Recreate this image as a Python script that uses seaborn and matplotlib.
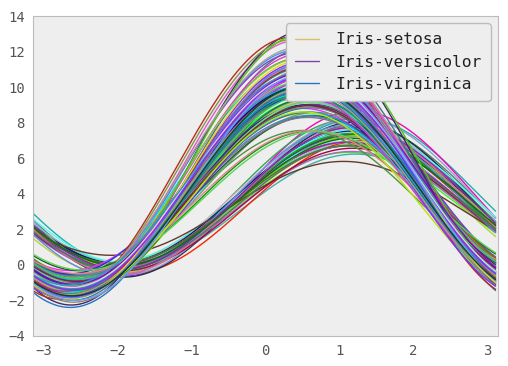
import random
import numpy as np
import pandas as pd
import matplotlib.pyplot as plt
from matplotlib.lines import Line2D
import seaborn as sns

# iris measurements, rows in file order (setosa, versicolor, virginica)
sepal_length = [
    5.1, 4.9, 4.7, 4.6, 5.0, 5.4, 4.6, 5.0, 4.4, 4.9, 5.4, 4.8, 4.8, 4.3, 5.8, 5.7, 5.4, 5.1, 5.7, 5.1,
    5.4, 5.1, 4.6, 5.1, 4.8, 5.0, 5.0, 5.2, 5.2, 4.7, 4.8, 5.4, 5.2, 5.5, 4.9, 5.0, 5.5, 4.9, 4.4, 5.1,
    5.0, 4.5, 4.4, 5.0, 5.1, 4.8, 5.1, 4.6, 5.3, 5.0,
    7.0, 6.4, 6.9, 5.5, 6.5, 5.7, 6.3, 4.9, 6.6, 5.2, 5.0, 5.9, 6.0, 6.1, 5.6, 6.7, 5.6, 5.8, 6.2, 5.6,
    5.9, 6.1, 6.3, 6.1, 6.4, 6.6, 6.8, 6.7, 6.0, 5.7, 5.5, 5.5, 5.8, 6.0, 5.4, 6.0, 6.7, 6.3, 5.6, 5.5,
    5.5, 6.1, 5.8, 5.0, 5.6, 5.7, 5.7, 6.2, 5.1, 5.7,
    6.3, 5.8, 7.1, 6.3, 6.5, 7.6, 4.9, 7.3, 6.7, 7.2, 6.5, 6.4, 6.8, 5.7, 5.8, 6.4, 6.5, 7.7, 7.7, 6.0,
    6.9, 5.6, 7.7, 6.3, 6.7, 7.2, 6.2, 6.1, 6.4, 7.2, 7.4, 7.9, 6.4, 6.3, 6.1, 7.7, 6.3, 6.4, 6.0, 6.9,
    6.7, 6.9, 5.8, 6.8, 6.7, 6.7, 6.3, 6.5, 6.2, 5.9,
]
sepal_width = [
    3.5, 3.0, 3.2, 3.1, 3.6, 3.9, 3.4, 3.4, 2.9, 3.1, 3.7, 3.4, 3.0, 3.0, 4.0, 4.4, 3.9, 3.5, 3.8, 3.8,
    3.4, 3.7, 3.6, 3.3, 3.4, 3.0, 3.4, 3.5, 3.4, 3.2, 3.1, 3.4, 4.1, 4.2, 3.1, 3.2, 3.5, 3.1, 3.0, 3.4,
    3.5, 2.3, 3.2, 3.5, 3.8, 3.0, 3.8, 3.2, 3.7, 3.3,
    3.2, 3.2, 3.1, 2.3, 2.8, 2.8, 3.3, 2.4, 2.9, 2.7, 2.0, 3.0, 2.2, 2.9, 2.9, 3.1, 3.0, 2.7, 2.2, 2.5,
    3.2, 2.8, 2.5, 2.8, 2.9, 3.0, 2.8, 3.0, 2.9, 2.6, 2.4, 2.4, 2.7, 2.7, 3.0, 3.4, 3.1, 2.3, 3.0, 2.5,
    2.6, 3.0, 2.6, 2.3, 2.7, 3.0, 2.9, 2.9, 2.5, 2.8,
    3.3, 2.7, 3.0, 2.9, 3.0, 3.0, 2.5, 2.9, 2.5, 3.6, 3.2, 2.7, 3.0, 2.5, 2.8, 3.2, 3.0, 3.8, 2.6, 2.2,
    3.2, 2.8, 2.8, 2.7, 3.3, 3.2, 2.8, 3.0, 2.8, 3.0, 2.8, 3.8, 2.8, 2.8, 2.6, 3.0, 3.4, 3.1, 3.0, 3.1,
    3.1, 3.1, 2.7, 3.2, 3.3, 3.0, 2.5, 3.0, 3.4, 3.0,
]
petal_length = [
    1.4, 1.4, 1.3, 1.5, 1.4, 1.7, 1.4, 1.5, 1.4, 1.5, 1.5, 1.6, 1.4, 1.1, 1.2, 1.5, 1.3, 1.4, 1.7, 1.5,
    1.7, 1.5, 1.0, 1.7, 1.9, 1.6, 1.6, 1.5, 1.4, 1.6, 1.6, 1.5, 1.5, 1.4, 1.5, 1.2, 1.3, 1.5, 1.3, 1.5,
    1.3, 1.3, 1.3, 1.6, 1.9, 1.4, 1.6, 1.4, 1.5, 1.4,
    4.7, 4.5, 4.9, 4.0, 4.6, 4.5, 4.7, 3.3, 4.6, 3.9, 3.5, 4.2, 4.0, 4.7, 3.6, 4.4, 4.5, 4.1, 4.5, 3.9,
    4.8, 4.0, 4.9, 4.7, 4.3, 4.4, 4.8, 5.0, 4.5, 3.5, 3.8, 3.7, 3.9, 5.1, 4.5, 4.5, 4.7, 4.4, 4.1, 4.0,
    4.4, 4.6, 4.0, 3.3, 4.2, 4.2, 4.2, 4.3, 3.0, 4.1,
    6.0, 5.1, 5.9, 5.6, 5.8, 6.6, 4.5, 6.3, 5.8, 6.1, 5.1, 5.3, 5.5, 5.0, 5.1, 5.3, 5.5, 6.7, 6.9, 5.0,
    5.7, 4.9, 6.7, 4.9, 5.7, 6.0, 4.8, 4.9, 5.6, 5.8, 6.1, 6.4, 5.6, 5.1, 5.6, 6.1, 5.6, 5.5, 4.8, 5.4,
    5.6, 5.1, 5.1, 5.9, 5.7, 5.2, 5.0, 5.2, 5.4, 5.1,
]
petal_width = [
    0.2, 0.2, 0.2, 0.2, 0.2, 0.4, 0.3, 0.2, 0.2, 0.1, 0.2, 0.2, 0.1, 0.1, 0.2, 0.4, 0.4, 0.3, 0.3, 0.3,
    0.2, 0.4, 0.2, 0.5, 0.2, 0.2, 0.4, 0.2, 0.2, 0.2, 0.2, 0.4, 0.1, 0.2, 0.1, 0.2, 0.2, 0.1, 0.2, 0.2,
    0.3, 0.3, 0.2, 0.6, 0.4, 0.3, 0.2, 0.2, 0.2, 0.2,
    1.4, 1.5, 1.5, 1.3, 1.5, 1.3, 1.6, 1.0, 1.3, 1.4, 1.0, 1.5, 1.0, 1.4, 1.3, 1.4, 1.5, 1.0, 1.5, 1.1,
    1.8, 1.3, 1.5, 1.2, 1.3, 1.4, 1.4, 1.7, 1.5, 1.0, 1.1, 1.0, 1.2, 1.6, 1.5, 1.6, 1.5, 1.3, 1.3, 1.3,
    1.2, 1.4, 1.2, 1.0, 1.3, 1.2, 1.3, 1.3, 1.1, 1.3,
    2.5, 1.9, 2.1, 1.8, 2.2, 2.1, 1.7, 1.8, 1.8, 2.5, 2.0, 1.9, 2.1, 2.0, 2.4, 2.3, 1.8, 2.2, 2.3, 1.5,
    2.3, 2.0, 2.0, 1.8, 2.1, 1.8, 1.8, 1.8, 2.1, 1.6, 1.9, 2.0, 2.2, 1.5, 1.4, 2.3, 2.4, 1.8, 1.8, 2.1,
    2.4, 2.3, 1.9, 2.3, 2.5, 2.3, 1.9, 2.0, 2.3, 1.8,
]
class_names = ["Iris-setosa", "Iris-versicolor", "Iris-virginica"]
class_sizes = [50, 50, 50]

species = [name for name, n in zip(class_names, class_sizes) for _ in range(n)]
df = pd.DataFrame({"SepalLength": sepal_length, "SepalWidth": sepal_width,
                   "PetalLength": petal_length, "PetalWidth": petal_width,
                   "Name": species})

# old-style andrews curve: only the first sin/cos pair is used,
# so the 4th coefficient (petal width) drops out
t = -np.pi + 2.0 * np.pi * np.arange(200) / 200.0
parts = []
for i, row in df.iterrows():
    y = row.SepalLength / np.sqrt(2.0) + row.SepalWidth * np.sin(t) + row.PetalLength * np.cos(t)
    parts.append(pd.DataFrame({"t": t, "value": y, "row": str(i)}))
curves = pd.concat(parts, ignore_index=True)


# one colour per row, seeded by row number (like the old pandas 'random' colours)
def row_color(i):
    random.seed(i)
    return [random.random() for _ in range(3)]


palette = {str(i): row_color(i) for i in range(len(df))}

sns.set_style("white", {
    "axes.facecolor": "#eeeeee",
    "axes.edgecolor": "#bcbcbc",
    "axes.grid": False,
})
plt.rcParams["font.family"] = ["DejaVu Sans Mono"]

fig = plt.figure(figsize=(5.08, 3.66), dpi=100)
ax = fig.add_axes([0.065, 0.082, 0.915, 0.874])
sns.lineplot(data=curves, x="t", y="value", hue="row", palette=palette,
             hue_order=[str(i) for i in range(len(df))],
             estimator=None, sort=False, legend=False, linewidth=1.0, ax=ax)

ax.set_xlim(-np.pi, np.pi)
ax.set_ylim(-4, 14)
ax.set_yticks(range(-4, 15, 2))
ax.set_xticks(range(-3, 4))
ax.set_xlabel("")
ax.set_ylabel("")
ax.tick_params(length=0, pad=6, labelsize=10, colors="#555555")

first_rows = np.cumsum([0] + class_sizes[:-1])
handles = [Line2D([], [], color=palette[str(r)], linewidth=1.0) for r in first_rows]
leg = ax.legend(handles, class_names, loc="upper right", fontsize=11.7,
                fancybox=True, framealpha=1.0, facecolor="#eeeeee",
                edgecolor="#bcbcbc", borderaxespad=0.45, labelspacing=0.45,
                handlelength=1.5, handletextpad=1.0, borderpad=0.55)
for txt in leg.get_texts():
    txt.set_color("#222222")

fig.savefig("out.png", dpi=100)
